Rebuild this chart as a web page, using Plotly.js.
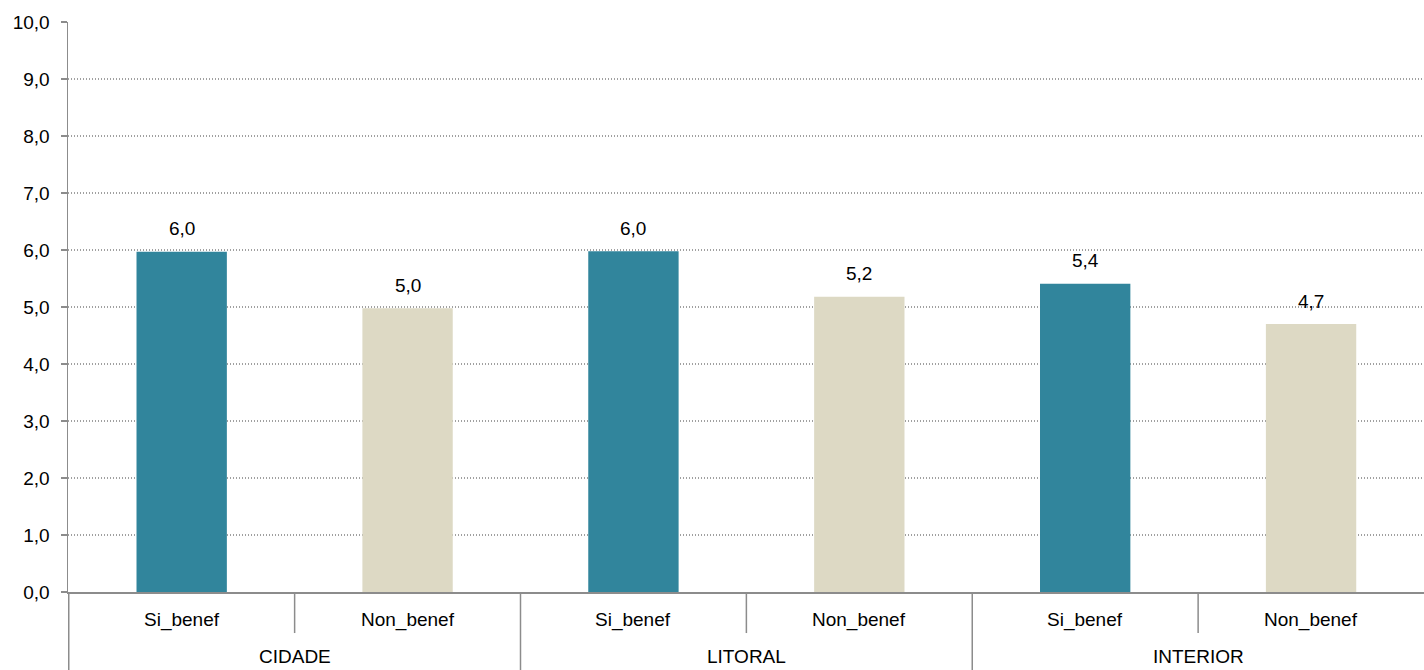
<!DOCTYPE html>
<html>
<head>
<meta charset="utf-8">
<script src="https://cdn.plot.ly/plotly-3.0.1.min.js"></script>
<style>html,body{margin:0;padding:0;background:#fff}#chart{width:1424px;height:670px}</style>
</head>
<body>
<div id="chart"></div>
<script>
const regions = ["CIDADE", "CIDADE", "LITORAL", "LITORAL", "INTERIOR", "INTERIOR"];
const groups = ["Si_benef", "Non_benef", "Si_benef", "Non_benef", "Si_benef", "Non_benef"];
const values = [5.97, 4.98, 5.98, 5.18, 5.41, 4.70];
const valueLabels = ["6,0", "5,0", "6,0", "5,2", "5,4", "4,7"];
const regionNames = ["CIDADE", "LITORAL", "INTERIOR"];
const groupColors = {"Si_benef": "#31859C", "Non_benef": "#DDD9C4"};

const FONT = "Liberation Sans, Arial, sans-serif";
const AXIS = "#8C8C8C";

const trace = {
  type: "bar",
  x: [regions, groups],
  y: values,
  marker: {color: groups.map(g => groupColors[g]), line: {width: 0}},
  hoverinfo: "x+y"
};

const shapes = [];
const annotations = [];
// value labels above bars and inner category labels
values.forEach((v, i) => {
  annotations.push({xref: "x", yref: "y", x: i, y: v, text: valueLabels[i],
    showarrow: false, yanchor: "middle", yshift: 23,
    font: {family: FONT, size: 19, color: "#000"}});
  annotations.push({xref: "x", yref: "paper", x: i, y: 0, text: groups[i],
    showarrow: false, yanchor: "middle", yshift: -28,
    font: {family: FONT, size: 19, color: "#000"}});
});
// region labels and dividers
regionNames.forEach((r, k) => {
  const start = k * 2;
  annotations.push({xref: "x", yref: "paper", x: start + 0.5, y: 0, text: r,
    showarrow: false, yanchor: "middle", yshift: -64,
    font: {family: FONT, size: 19, color: "#000"}});
  shapes.push({type: "line", xref: "x", yref: "paper", x0: start - 0.5, x1: start - 0.5,
    y0: 0, y1: -0.14, line: {color: AXIS, width: 1.5}});
  shapes.push({type: "line", xref: "x", yref: "paper", x0: start + 0.5, x1: start + 0.5,
    y0: 0, y1: -0.072, line: {color: AXIS, width: 1.5}});
});

const layout = {
  width: 1424, height: 670,
  margin: {l: 68, r: 0, t: 22, b: 78},
  paper_bgcolor: "#fff", plot_bgcolor: "#fff",
  separators: ",.",
  showlegend: false,
  bargap: 0.6,
  font: {family: FONT, size: 19, color: "#000"},
  xaxis: {
    type: "multicategory",
    showline: true, linecolor: AXIS, linewidth: 1.5,
    ticks: "", showgrid: false, showticklabels: false, showdividers: false
  },
  yaxis: {
    range: [0, 10], dtick: 1, tickformat: ".1f",
    showline: true, linecolor: AXIS, linewidth: 1.5,
    ticks: "outside", ticklen: 6, tickcolor: AXIS, tickwidth: 1.5,
    ticklabelstandoff: 7,
    showgrid: true, gridcolor: "#A0A0A0", griddash: "1px,2px", gridwidth: 1.2,
    zeroline: false,
    tickfont: {family: FONT, size: 19, color: "#000"}
  },
  shapes: shapes,
  annotations: annotations
};

Plotly.newPlot("chart", [trace], layout, {displayModeBar: false, staticPlot: true});
</script>
</body>
</html>
